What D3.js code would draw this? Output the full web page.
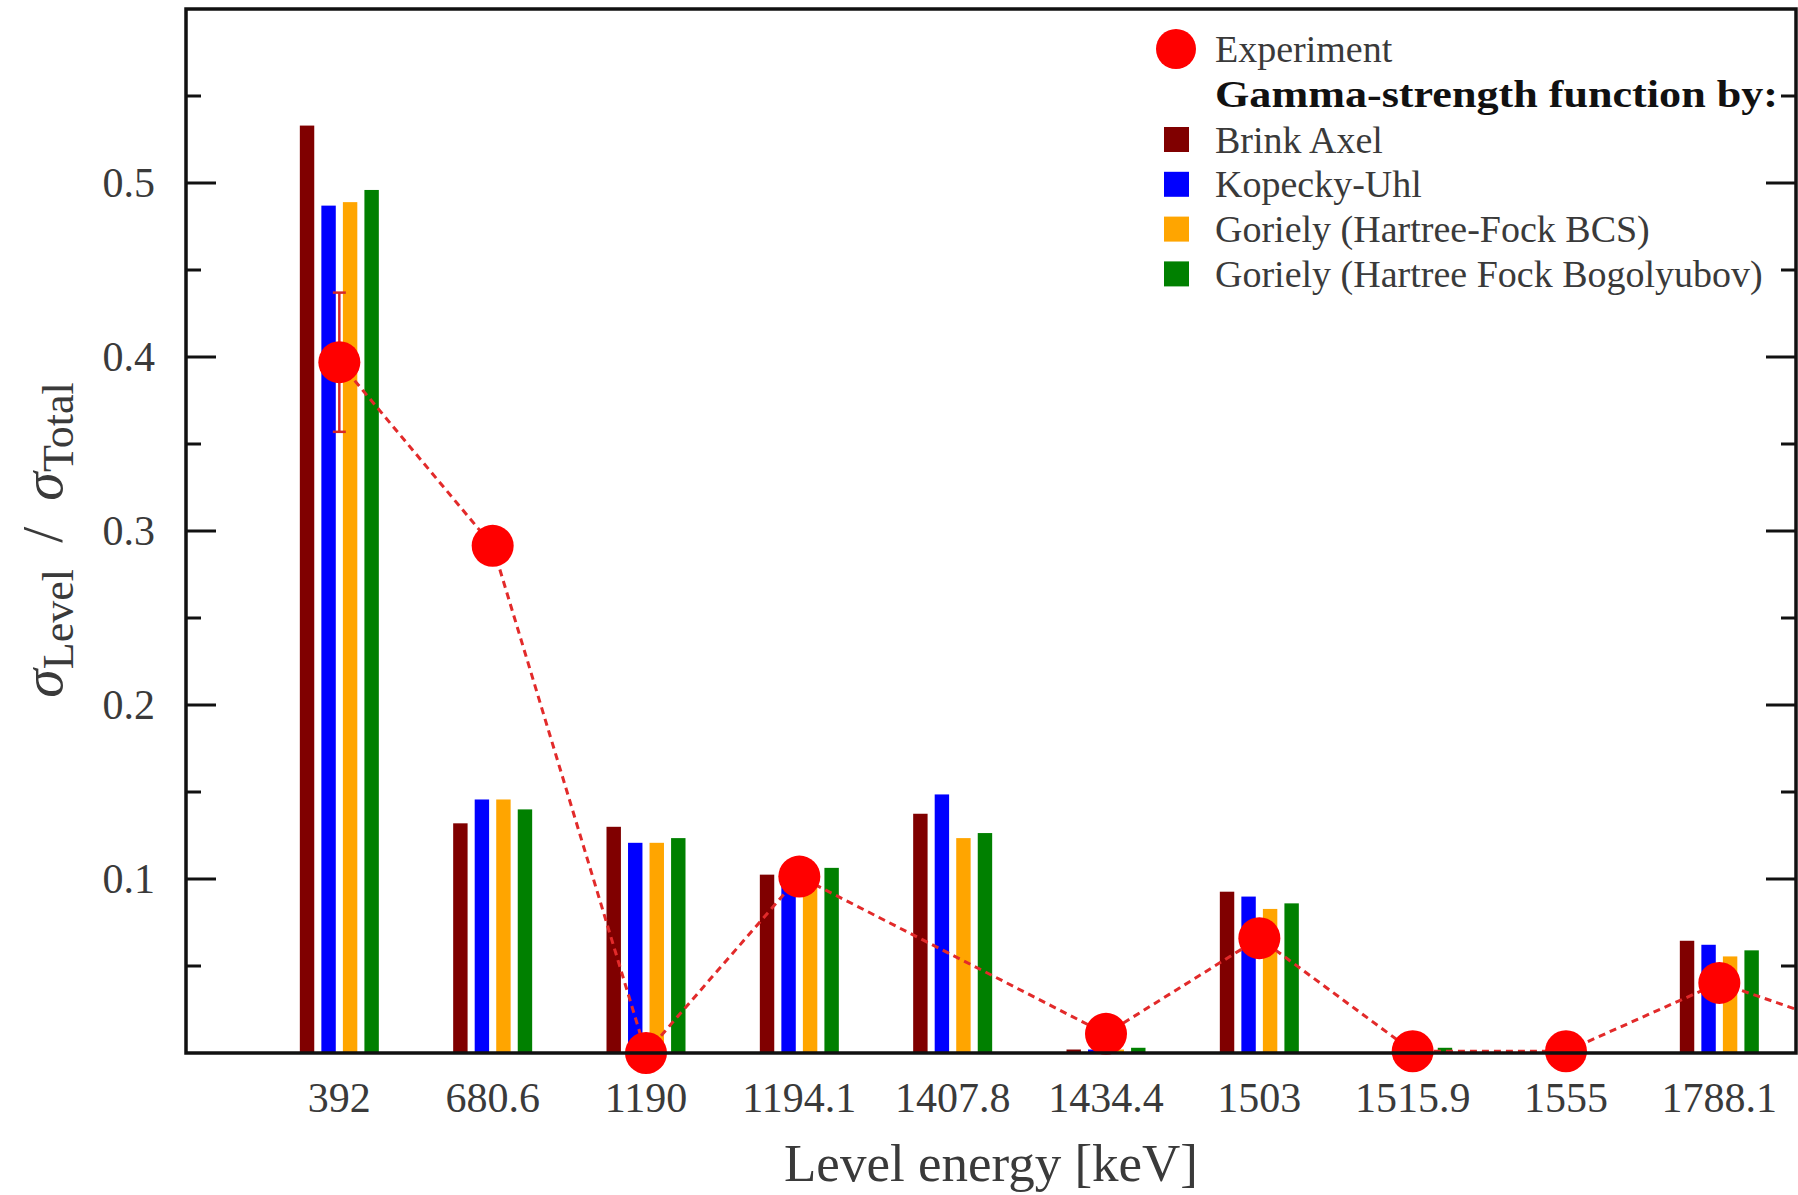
<!DOCTYPE html>
<html>
<head>
<meta charset="utf-8">
<script src="https://cdn.jsdelivr.net/npm/d3@7"></script>
<style>
  html, body { margin: 0; padding: 0; background: #fff; }
  svg { display: block; }
  text { font-family: "Liberation Serif", "DejaVu Serif", serif; }
</style>
</head>
<body>
<svg id="chart" width="1798" height="1195"></svg>
<script>
// ---------------- data ----------------
const categories = ["392", "680.6", "1190", "1194.1", "1407.8", "1434.4", "1503", "1515.9", "1555", "1788.1"];
const seriesNames = ["Brink Axel", "Kopecky-Uhl", "Goriely (Hartree-Fock BCS)", "Goriely (Hartree Fock Bogolyubov)"];
const brinkAxel  = [0.533, 0.132, 0.130, 0.1025, 0.1375, 0.002, 0.0927, 0.000, 0.000, 0.0645];
const kopeckyUhl = [0.487, 0.1457, 0.1208, 0.099, 0.1486, 0.002, 0.0899, 0.001, 0.000, 0.0622];
const gorielyBCS = [0.489, 0.1457, 0.1208, 0.099, 0.1235, 0.002, 0.0828, 0.001, 0.000, 0.0555];
const gorielyHFB = [0.496, 0.140, 0.1235, 0.1064, 0.1264, 0.003, 0.0860, 0.003, 0.000, 0.0590];
const experiment = [0.397, 0.2915, 0.000, 0.1014, null, 0.011, 0.066, 0.001, 0.001, 0.0403];
const expError   = [0.040, 0, 0, 0, 0, 0, 0, 0, 0, 0];
const expTail    = 0.010;   // next level beyond the right edge (line runs off the frame)
const yTicksMajor = [0.1, 0.2, 0.3, 0.4, 0.5];
const yTicksMinor = [0.05, 0.15, 0.25, 0.35, 0.45, 0.55];
const yTickLabels = ["0.1", "0.2", "0.3", "0.4", "0.5"];

// ---------------- layout ----------------
const svg = d3.select("#chart");
const L = 186, R = 1796, T = 9, B = 1053;
const colors = ["#800000", "#0000ff", "#ffa500", "#008000"];
const series = [brinkAxel, kopeckyUhl, gorielyBCS, gorielyHFB];
const textColor = "#3a3a3a";

const x = d3.scaleLinear().domain([0, categories.length + 0.5]).range([L, R]);
const y = d3.scaleLinear().domain([0, 0.6]).range([B, T]);
const sub = d3.scaleBand().domain(d3.range(4)).range([-39.5, 39.5]).paddingInner(0.33).paddingOuter(0);

svg.append("defs").append("clipPath").attr("id", "plotclip")
  .append("rect").attr("x", L).attr("y", T).attr("width", R - L).attr("height", B - T);

const plot = svg.append("g").attr("clip-path", "url(#plotclip)");

// bars
series.forEach((vals, s) => {
  plot.append("g").selectAll("rect").data(vals).join("rect")
    .attr("x", (d, i) => x(i + 1) + sub(s))
    .attr("width", sub.bandwidth())
    .attr("y", d => y(d))
    .attr("height", d => y(0) - y(d))
    .attr("fill", colors[s]);
});

// experiment dashed line
const expPts = experiment.map((v, i) => ({ i: i + 1, v })).filter(d => d.v !== null);
expPts.push({ i: categories.length + 1, v: expTail });
const line = d3.line().x(d => x(d.i)).y(d => y(d.v));
plot.append("path").datum(expPts).attr("d", line)
  .attr("fill", "none").attr("stroke", "#e22a2a").attr("stroke-width", 3)
  .attr("stroke-dasharray", "7,5");

// error bars
const errPts = experiment.map((v, i) => ({ i: i + 1, v, e: expError[i] })).filter(d => d.v !== null && d.e > 0);
const eg = plot.append("g").attr("stroke", "#d62828").attr("stroke-width", 2.5);
errPts.forEach(d => {
  eg.append("line").attr("x1", x(d.i)).attr("x2", x(d.i)).attr("y1", y(d.v - d.e)).attr("y2", y(d.v + d.e));
  eg.append("line").attr("x1", x(d.i) - 6.5).attr("x2", x(d.i) + 6.5).attr("y1", y(d.v - d.e)).attr("y2", y(d.v - d.e));
  eg.append("line").attr("x1", x(d.i) - 6.5).attr("x2", x(d.i) + 6.5).attr("y1", y(d.v + d.e)).attr("y2", y(d.v + d.e));
});

// experiment markers
svg.append("g").selectAll("circle").data(expPts.filter(d => d.i <= categories.length)).join("circle")
  .attr("cx", d => x(d.i)).attr("cy", d => y(d.v)).attr("r", 21).attr("fill", "#ff0000");

// frame
svg.append("rect").attr("x", L).attr("y", T).attr("width", R - L).attr("height", B - T)
  .attr("fill", "none").attr("stroke", "#111").attr("stroke-width", 3.5);

// y ticks (inward on both sides)
const tg = svg.append("g").attr("stroke", "#111").attr("stroke-width", 3);
yTicksMajor.forEach(t => {
  tg.append("line").attr("x1", L).attr("x2", L + 30).attr("y1", y(t)).attr("y2", y(t));
  tg.append("line").attr("x1", R - 30).attr("x2", R).attr("y1", y(t)).attr("y2", y(t));
});
yTicksMinor.forEach(t => {
  tg.append("line").attr("x1", L).attr("x2", L + 15).attr("y1", y(t)).attr("y2", y(t));
  tg.append("line").attr("x1", R - 15).attr("x2", R).attr("y1", y(t)).attr("y2", y(t));
});

// y tick labels
svg.append("g").selectAll("text").data(yTicksMajor).join("text")
  .attr("x", 155).attr("y", d => y(d) + 14)
  .attr("text-anchor", "end").attr("font-size", 42).attr("fill", textColor)
  .text((d, i) => yTickLabels[i]);

// x tick labels
svg.append("g").selectAll("text").data(categories).join("text")
  .attr("x", (d, i) => x(i + 1)).attr("y", 1112)
  .attr("text-anchor", "middle").attr("font-size", 42).attr("fill", textColor)
  .text(d => d);

// x axis title
svg.append("text").attr("x", (L + R) / 2).attr("y", 1181)
  .attr("text-anchor", "middle").attr("font-size", 53).attr("fill", textColor)
  .text("Level energy [keV]");

// y axis title
const yt = svg.append("text").attr("transform", "translate(62,540) rotate(-90)")
  .attr("text-anchor", "middle").attr("font-size", 58).attr("fill", textColor);
yt.append("tspan").attr("font-style", "italic").text("σ");
yt.append("tspan").attr("font-size", 44).attr("dy", 11).text("Level");
yt.append("tspan").attr("dy", -11).text("\u2009 / \u2009");
yt.append("tspan").attr("font-style", "italic").text("σ");
yt.append("tspan").attr("font-size", 44).attr("dy", 11).text("Total");

// legend
const lg = svg.append("g");
lg.append("circle").attr("cx", 1176).attr("cy", 49).attr("r", 20).attr("fill", "#ff0000");
lg.append("text").attr("x", 1215).attr("y", 62).attr("font-size", 38).attr("fill", textColor).text("Experiment");
lg.append("text").attr("x", 1215).attr("y", 107).attr("font-size", 38).attr("font-weight", "bold")
  .attr("fill", "#111").attr("textLength", 563).attr("lengthAdjust", "spacingAndGlyphs")
  .text("Gamma-strength function by:");
seriesNames.forEach((name, s) => {
  const cy = 139.5 + s * 44.8;
  lg.append("rect").attr("x", 1164).attr("y", cy - 12.5).attr("width", 25).attr("height", 25).attr("fill", colors[s]);
  lg.append("text").attr("x", 1215).attr("y", cy + 13).attr("font-size", 38).attr("fill", textColor).text(name);
});
</script>
</body>
</html>
